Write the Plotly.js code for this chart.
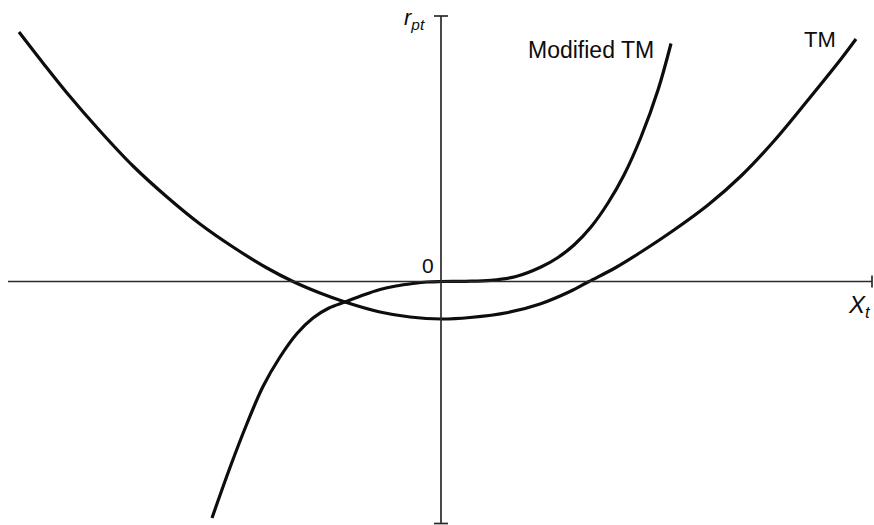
<!DOCTYPE html>
<html>
<head>
<meta charset="utf-8">
<script src="https://cdn.plot.ly/plotly-3.0.1.min.js"></script>
<style>
  html, body { margin: 0; padding: 0; background: #ffffff; }
  #chart { width: 874px; height: 525px; }
</style>
</head>
<body>
<div id="chart"></div>
<script>
// TM: U-shaped response of r_pt to X_t
const tmX = [-4.22, -3.98, -3.74, -3.41, -3.08, -2.74, -2.41, -2.08, -1.74, -1.48, -1.21, -0.96, -0.61, -0.31, 0,
             0.29, 0.67, 0.99, 1.29, 1.48, 1.74, 2.00, 2.33, 2.67, 3.00, 3.33, 3.67, 4.00, 4.15];
const tmY = [2.495, 2.185, 1.885, 1.505, 1.155, 0.845, 0.575, 0.345, 0.135, 0, -0.115, -0.205, -0.305, -0.355, -0.375,
             -0.36, -0.31, -0.225, -0.10, 0, 0.135, 0.295, 0.515, 0.765, 1.055, 1.405, 1.815, 2.225, 2.425];

// Modified TM: flat through the origin, steep at both ends
const modX = [-2.29, -2.11, -1.94, -1.78, -1.61, -1.44, -1.28, -1.12, -0.96, -0.79, -0.61, -0.45, -0.28, -0.14, 0,
              0.25, 0.50, 0.75, 1.00, 1.17, 1.33, 1.50, 1.67, 1.83, 2.00, 2.17, 2.30];
const modY = [-2.365, -1.86, -1.42, -1.05, -0.755, -0.52, -0.365, -0.265, -0.205, -0.14, -0.08, -0.045, -0.02, -0.005, 0,
              0.002, 0.012, 0.05, 0.145, 0.24, 0.365, 0.545, 0.785, 1.065, 1.445, 1.915, 2.38];

// Axis extents (data units)
const xAxisEnds = [-4.33, 4.31];
const yAxisEnds = [-2.42, 2.655];

// Text labels
const labelModified = "Modified TM";
const labelTM = "TM";
const labelOrigin = "0";
const labelY = "<i>r</i><sub><i>pt</i></sub>";
const labelX = "<i>X</i><sub><i>t</i></sub>";

const curveLine = { color: "#0d0d0d", width: 3.2, shape: "spline", smoothing: 1 };

const traces = [
  { x: tmX, y: tmY, mode: "lines", line: curveLine, hoverinfo: "skip", name: labelTM },
  { x: modX, y: modY, mode: "lines", line: curveLine, hoverinfo: "skip", name: labelModified }
];

const axisColor = "#2a2a2a";
const axisW = 1.7;
const shapes = [
  // horizontal axis with end tick
  { type: "line", xref: "x", yref: "y", x0: xAxisEnds[0], x1: xAxisEnds[1], y0: 0, y1: 0,
    line: { color: axisColor, width: axisW } },
  { type: "line", xref: "x", yref: "y", x0: xAxisEnds[1], x1: xAxisEnds[1], y0: -0.06, y1: 0.06,
    line: { color: axisColor, width: axisW } },
  // vertical axis with end ticks
  { type: "line", xref: "x", yref: "y", x0: 0, x1: 0, y0: yAxisEnds[0], y1: yAxisEnds[1],
    line: { color: axisColor, width: axisW } },
  { type: "line", xref: "x", yref: "y", x0: -0.07, x1: 0.07, y0: yAxisEnds[1], y1: yAxisEnds[1],
    line: { color: axisColor, width: axisW } },
  { type: "line", xref: "x", yref: "y", x0: -0.07, x1: 0.07, y0: yAxisEnds[0], y1: yAxisEnds[0],
    line: { color: axisColor, width: axisW } }
];

const baseFont = { family: "Liberation Sans, Arial, sans-serif", color: "#0d0d0d" };
const annotations = [
  { x: 1.50, y: 2.32, text: labelModified, showarrow: false, xanchor: "center", yanchor: "middle",
    font: Object.assign({}, baseFont, { size: 23 }) },
  { x: 3.79, y: 2.42, text: labelTM, showarrow: false, xanchor: "center", yanchor: "middle",
    font: Object.assign({}, baseFont, { size: 22 }) },
  { x: -0.13, y: 0.16, text: labelOrigin, showarrow: false, xanchor: "center", yanchor: "middle",
    font: Object.assign({}, baseFont, { size: 21 }) },
  { x: -0.14, y: 2.63, text: labelY, showarrow: false, xanchor: "right", yanchor: "middle",
    font: Object.assign({}, baseFont, { size: 22 }) },
  { x: 4.32, y: -0.245, text: labelX, showarrow: false, xanchor: "right", yanchor: "middle",
    font: Object.assign({}, baseFont, { size: 24 }) }
];

const layout = {
  width: 874,
  height: 525,
  autosize: false,
  margin: { l: 0, r: 0, t: 0, b: 0, pad: 0 },
  paper_bgcolor: "#ffffff",
  plot_bgcolor: "#ffffff",
  showlegend: false,
  xaxis: { range: [-4.41, 4.33], visible: false, fixedrange: true },
  yaxis: { range: [-2.435, 2.815], visible: false, fixedrange: true },
  shapes: shapes,
  annotations: annotations
};

Plotly.newPlot("chart", traces, layout, { displayModeBar: false, staticPlot: true });
</script>
</body>
</html>
